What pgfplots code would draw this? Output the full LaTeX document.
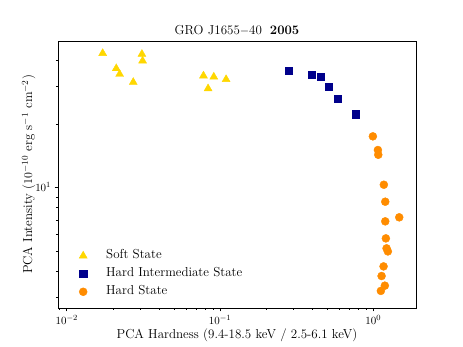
\documentclass[border=0pt]{standalone}
\usepackage{pgfplots}
\pgfplotsset{compat=1.18}
\definecolor{softc}{RGB}{255,215,0}
\definecolor{himsc}{RGB}{0,0,139}
\definecolor{hardc}{RGB}{255,140,0}
\begin{document}
\begin{tikzpicture}
\path[use as bounding box] (-58pt,-39pt) rectangle (405pt,308pt);
\begin{loglogaxis}[
  scale only axis,
  width=358pt, height=267pt,
  xmin=0.00877, xmax=1.90,
  ymin=2.68, ymax=49.4,
  xtick={0.01,0.1,1},
  minor xtick={0.009,0.02,0.03,0.04,0.05,0.06,0.07,0.08,0.09,0.2,0.3,0.4,0.5,0.6,0.7,0.8,0.9},
  ytick={10},
  minor ytick={3,4,5,6,7,8,9,20,30,40},
  tick align=outside,
  xtick pos=left, ytick pos=left,
  major tick length=3.5pt, minor tick length=2pt,
  every tick/.style={black, line width=0.6pt},
  axis line style={line width=0.8pt},
  tick label style={font=\fontsize{11}{12}\selectfont},
  label style={font=\fontsize{13}{15}\selectfont},
  xlabel style={yshift=2pt},
  ylabel style={yshift=-7pt},
  title style={font=\fontsize{13}{15}\selectfont, yshift=-4pt},
  title={GRO J1655$-$40\hspace{8pt}\textbf{2005}},
  xlabel={PCA Hardness (9.4-18.5 keV / 2.5-6.1 keV)},
  ylabel={PCA Intensity ($10^{-10}$ erg s$^{-1}$ cm$^{-2}$)},
  legend style={draw=none, fill=none, at={(axis description cs:0,0)}, anchor=south west,
    xshift=18pt, yshift=6pt,
    font=\fontsize{13}{15}\selectfont, row sep=2pt, column sep=17pt,
    nodes={text height=9pt, text depth=3pt, inner sep=2pt}},
  legend cell align=left,
]
\addplot[only marks, mark=triangle*, mark size=4.6pt, color=softc] coordinates {
(0.01716,43.2) (0.03094,42.8) (0.03126,39.8) (0.02104,36.6) (0.02214,34.4)
(0.02716,31.5) (0.0780,33.8) (0.0911,33.4) (0.0836,29.4) (0.1096,32.5)
};
\addlegendentry{Soft State}
\addplot[only marks, mark=square*, mark size=3.6pt, color=himsc] coordinates {
(0.2806,35.6) (0.396,34.2) (0.4537,33.6) (0.5137,30.1) (0.583,26.4) (0.7668,22.2)
};
\addlegendentry{Hard Intermediate State}
\addplot[only marks, mark=*, mark size=4pt, color=hardc] coordinates {
(0.994,17.45) (1.072,15.03) (1.078,14.27) (1.172,10.29) (1.197,8.55)
(1.477,7.21) (1.197,6.90) (1.208,5.73) (1.221,5.14) (1.245,4.97)
(1.167,4.22) (1.133,3.80) (1.190,3.42) (1.121,3.23)
};
\addlegendentry{Hard State}
\end{loglogaxis}
\end{tikzpicture}
\end{document}
